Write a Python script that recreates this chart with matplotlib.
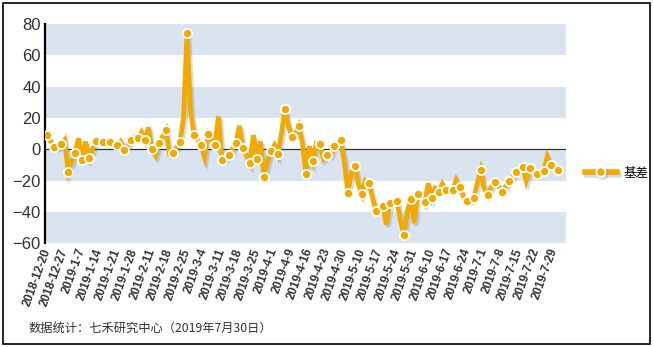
import numpy as np
import matplotlib
matplotlib.use("Agg")
import matplotlib.pyplot as plt
import matplotlib.patheffects as pe
from matplotlib.lines import Line2D
from matplotlib.patches import Rectangle

# marker points (every second trading day) and in-between days
marked = [9.1, 1.5, 3.3, -14.3, -2.2, -6.6, -5.5, 5.4, 4.4, 4.4, 2.5, -0.2, 5.9, 7, 5.8,
          0, 3.8, 12.3, -2.4, 4.9, 74, 9.4, 2.7, 9.5, 2.7, -6.6, -3.9, 4.3, 0.6, -8.8,
          -6.2, -17.8, -0.9, -3.2, 25.6, 7.8, 14.9, -15.5, -7.3, 3.3, -3.7, 2.2, 5.7,
          -27.6, -10.9, -28.5, -21.7, -39.3, -36.5, -34.5, -32.7, -54.4, -31.4, -28.4,
          -33.5, -31.1, -27.1, -26, -26.2, -24.3, -32.8, -31.1, -13.5, -29.2, -20.7,
          -27.3, -20.5, -14.8, -11.3, -12.1, -16, -13.8, -9.9, -13.3]
between = [5, 1, 6, -8, 7, 4.9, 0, 5, 4, 3, 5, 2, 8, 11, 14, -4, 8, -3, 1, 20, 25, 6, -5,
           6, 21, -6, 0, 15, -4, 9, 5, -8, 2.7, 10, 15, 10, 4, 2, 3.8, -6, -4, 4, -8, -15,
           -22, -20, -30, -37, -48, -33, -45, -40, -47, -28, -21.7, -25, -22, -26, -19.6,
           -30, -33, -22, -25, -24, -23, -24, -18, -13, -20, -13, -14, -4.7, -11]

tick_labels = ["2018-12-20", "2018-12-27", "2019-1-7", "2019-1-14", "2019-1-21", "2019-1-28",
               "2019-2-11", "2019-2-18", "2019-2-25", "2019-3-4", "2019-3-11", "2019-3-18",
               "2019-3-25", "2019-4-1", "2019-4-9", "2019-4-16", "2019-4-23", "2019-4-30",
               "2019-5-10", "2019-5-17", "2019-5-24", "2019-5-31", "2019-6-10", "2019-6-17",
               "2019-6-24", "2019-7-1", "2019-7-8", "2019-7-15", "2019-7-22", "2019-7-29"]
series_name = "基差"
footer = "数据统计：七禾研究中心（2019年7月30日）"

values = []
for i, v in enumerate(marked):
    values.append(v)
    if i < len(between):
        values.append(between[i])
values = np.array(values)
x = np.arange(len(values))

plt.rcParams['font.family'] = ['Liberation Sans', 'DejaVu Sans']
orange = '#F2A900'

fig = plt.figure(figsize=(6.54, 3.47), dpi=100)
ax = fig.add_axes([45 / 654, 1 - 243.3 / 347, (565.7 - 45) / 654, (243.3 - 24) / 347])

ax.set_xlim(-0.6, 148.3)
ax.set_ylim(-60, 80)
for lo in [60, 20, -20, -60]:
    ax.axhspan(lo, lo + 20, color='#D9E4F0', lw=0, zorder=0)
ax.axhline(0, color='#333333', lw=0.9, zorder=1)

shadow = [pe.SimpleLineShadow(offset=(1.5, -1.8), shadow_color='#667080', alpha=0.25), pe.Normal()]
ax.plot(x, values, color=orange, lw=3.4, solid_joinstyle='miter', zorder=3, path_effects=shadow)
ax.plot(x, values, ls='none', marker='o', markevery=2, ms=6.6, mfc=orange, mec='white',
        mew=1.3, zorder=4)

for s in ['top', 'right', 'bottom']:
    ax.spines[s].set_visible(False)
ax.spines['left'].set_linewidth(1.6)
ax.spines['left'].set_color('black')

ax.set_yticks(np.arange(-60, 81, 20))
ax.tick_params(axis='y', length=0, pad=3, labelsize=12, labelcolor='#333333')
ax.set_xticks(np.arange(0, len(values), 5))
ax.set_xticklabels(tick_labels, rotation=70, ha='right', va='center', rotation_mode='anchor',
                   fontsize=8.5, fontweight='bold', color='#333333')
ax.tick_params(axis='x', length=0, pad=4)

handle = Line2D([0], [0], color=orange, lw=4, marker='o', ms=6.6, mfc=orange, mec='white', mew=1.3,
                path_effects=shadow)
fig.legend([handle], [series_name], loc='center left', bbox_to_anchor=(574 / 654, 1 - 173 / 347),
           frameon=False, handlelength=2.5, handletextpad=0.6,
           prop={'family': ['Noto Sans CJK SC'], 'size': 9})

fig.text(29 / 654, 1 - 328 / 347, footer, ha='left', va='center', fontsize=8.8, color='#333333',
         family=['Noto Sans CJK SC', 'DejaVu Sans'])

fig.patches.append(Rectangle((2.5 / 654, 3.5 / 347), 647.5 / 654, 341 / 347, transform=fig.transFigure,
                             fill=False, edgecolor='black', lw=1.2))

fig.savefig('out.png', dpi=100)
